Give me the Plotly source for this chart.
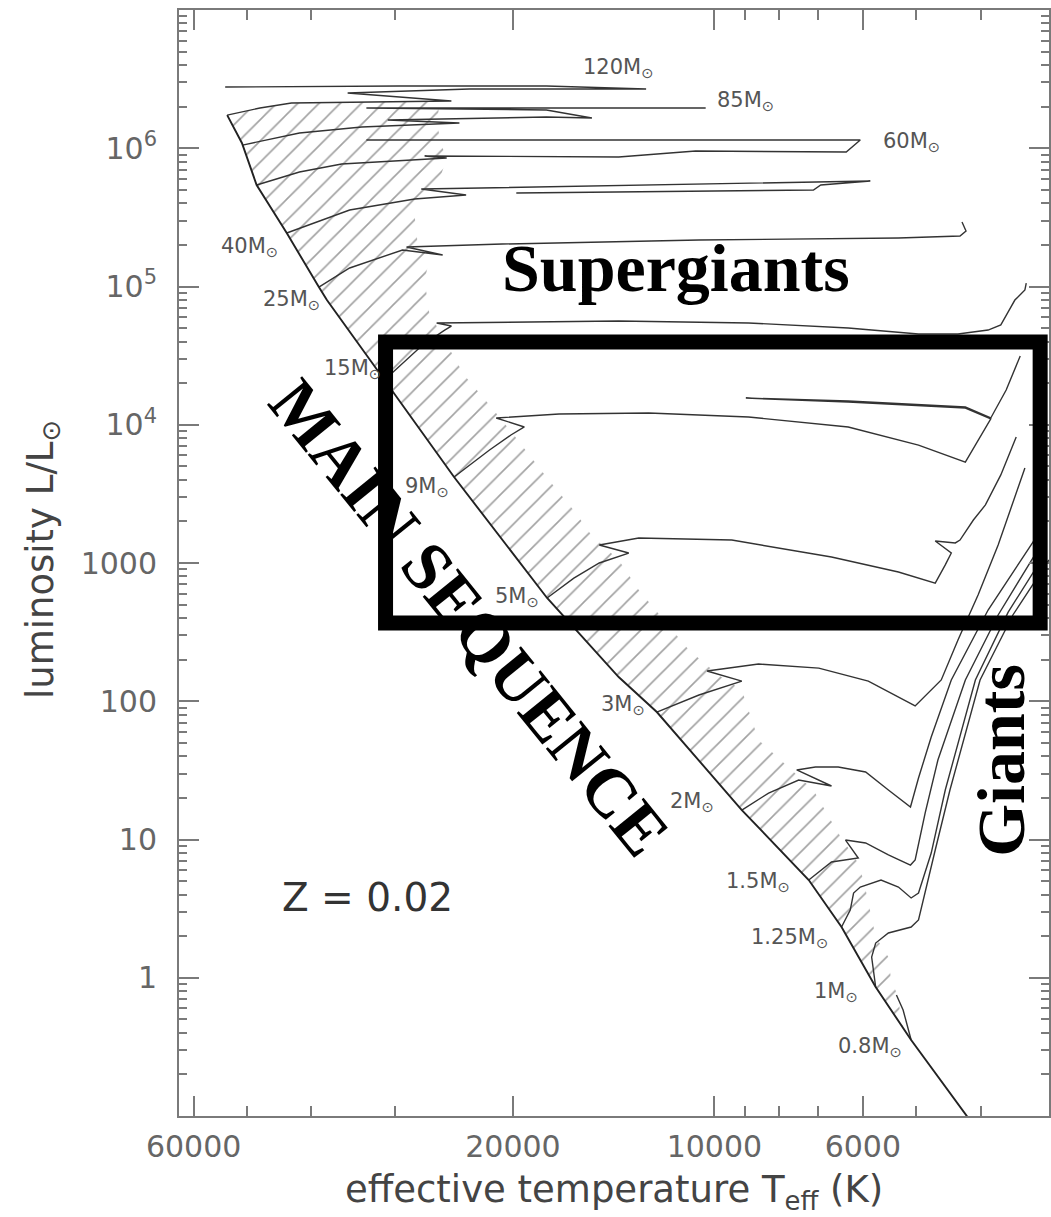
import numpy as np
import plotly.graph_objects as go

# ---------------------------------------------------------------
# Stellar evolutionary tracks, solar metallicity (Z = 0.02)
# All coordinates are log10(Teff / K) and log10(L / Lsun)
# ---------------------------------------------------------------

# zero-age main sequence
zams_logT = [4.728, 4.706, 4.684, 4.639, 4.591, 4.579, 4.493, 4.389, 4.250, 4.143,
             4.086, 3.959, 3.859, 3.810, 3.759, 3.706, 3.613]
zams_logL = [6.240, 6.038, 5.734, 5.387, 4.996, 4.902, 4.324, 3.622, 2.747, 2.175,
             1.922, 1.213, 0.707, 0.367, -0.067, -0.450, -1.065]

# end of core hydrogen burning (red edge of the hatched main-sequence band)
tams_logT = [4.411, 4.414, 4.408, 4.400, 4.411, 4.433, 4.448, 4.444, 4.426, 4.433,
             4.426, 4.403, 4.374, 4.336, 4.302, 4.251, 4.207, 4.184, 4.143, 4.113,
             4.075, 4.038, 3.994, 3.959, 3.934, 3.889, 3.852, 3.815, 3.788, 3.777,
             3.759, 3.740, 3.736, 3.725, 3.721, 3.706]
tams_logL = [6.342, 6.168, 6.023, 5.929, 5.770, 5.626, 5.517, 5.336, 5.192, 5.047,
             4.808, 4.613, 4.360, 4.143, 3.940, 3.622, 3.362, 3.202, 3.022, 2.805,
             2.588, 2.371, 2.190, 2.081, 1.720, 1.524, 1.358, 1.047, 0.852, 0.707,
             0.295, 0.150, -0.016, -0.139, -0.327, -0.450]
# upper edge of the band, back towards the top of the ZAMS
band_top_logT = [4.632, 4.679]
band_top_logL = [6.327, 6.291]

# individual tracks
m120_logT = [4.728, 4.679, 4.632, 4.393, 4.548, 4.366, 4.102, 4.251, 4.471, 4.731]
m120_logL = [6.240, 6.291, 6.327, 6.342, 6.400, 6.429, 6.429, 6.450, 6.450, 6.443]

m85_logT = [4.705, 4.620, 4.527, 4.381, 4.488, 4.251, 4.183, 4.251, 4.520, 4.013]
m85_logL = [6.023, 6.110, 6.154, 6.183, 6.204, 6.226, 6.219, 6.277, 6.291, 6.291]

m60_logT = [4.684, 4.620, 4.557, 4.400, 4.433, 4.143, 4.028, 3.803, 3.782, 4.520]
m60_logL = [5.734, 5.828, 5.886, 5.929, 5.944, 5.937, 5.980, 5.973, 6.060, 6.060]

m40_logT = [4.639, 4.545, 4.448, 4.371, 4.438, 4.172, 3.767, 3.841, 3.852, 4.296]
m40_logL = [5.387, 5.553, 5.633, 5.662, 5.705, 5.727, 5.763, 5.734, 5.698, 5.676]

m25_logT = [4.591, 4.545, 4.466, 4.406, 4.460, 4.317, 4.023, 3.725, 3.633, 3.624, 3.630]
m25_logL = [4.996, 5.134, 5.264, 5.228, 5.286, 5.307, 5.336, 5.351, 5.365, 5.401, 5.467]

m15_logT = [4.493, 4.436, 4.403, 4.393, 4.415, 4.292, 4.143, 3.949, 3.800, 3.695,
            3.636, 3.591, 3.572, 3.561, 3.551, 3.536, 3.534]
m15_logL = [4.324, 4.577, 4.685, 4.714, 4.736, 4.743, 4.750, 4.736, 4.700, 4.656,
            4.656, 4.685, 4.722, 4.816, 4.902, 4.975, 5.025]

m9_logT = [4.389, 4.336, 4.304, 4.284, 4.326, 4.232, 4.098, 3.949, 3.800, 3.695,
           3.625, 3.606, 3.587, 3.625, 3.800, 3.953, 3.800, 3.625, 3.587, 3.564,
           3.546, 3.543]
m9_logL = [3.622, 3.817, 3.926, 3.984, 4.049, 4.078, 4.085, 4.056, 3.984, 3.853,
           3.730, 3.890, 4.042, 4.121, 4.164, 4.193, 4.172, 4.128, 4.049, 4.251,
           4.454, 4.497]

m5_logT = [4.250, 4.210, 4.172, 4.128, 4.172, 4.113, 3.974, 3.825, 3.725, 3.670,
           3.655, 3.646, 3.670, 3.640, 3.633, 3.613, 3.595, 3.572, 3.549]
m5_logL = [2.747, 2.891, 3.000, 3.072, 3.130, 3.181, 3.166, 3.043, 2.935, 2.855,
           2.986, 3.072, 3.159, 3.145, 3.166, 3.311, 3.420, 3.637, 3.911]

m3_logT = [4.086, 4.023, 3.959, 4.011, 3.934, 3.844, 3.770, 3.700, 3.661, 3.636,
           3.606, 3.576, 3.536]
m3_logL = [1.922, 2.045, 2.146, 2.219, 2.269, 2.240, 2.146, 1.966, 2.154, 2.443,
           2.768, 3.130, 3.687]

m2_logT = [3.959, 3.919, 3.874, 3.825, 3.877, 3.849, 3.815, 3.774, 3.740, 3.707,
           3.695, 3.676, 3.646, 3.591, 3.522]
m2_logL = [1.213, 1.336, 1.430, 1.387, 1.503, 1.524, 1.524, 1.488, 1.358, 1.235,
           1.445, 1.741, 2.154, 2.660, 3.166]

m1p5_logT = [3.859, 3.825, 3.785, 3.804, 3.774, 3.740, 3.707, 3.700, 3.685, 3.666,
             3.625, 3.576, 3.515]
m1p5_logL = [0.707, 0.837, 0.866, 0.996, 0.975, 0.888, 0.815, 0.852, 1.192, 1.575,
             2.154, 2.624, 3.108]

m1p25_logT = [3.810, 3.797, 3.792, 3.782, 3.751, 3.725, 3.706, 3.695, 3.676, 3.655,
              3.610, 3.561, 3.507]
m1p25_logL = [0.367, 0.490, 0.613, 0.656, 0.707, 0.656, 0.577, 0.613, 0.902, 1.358,
              2.154, 2.645, 3.058]

m1_logT = [3.759, 3.765, 3.759, 3.740, 3.706, 3.695, 3.670, 3.648, 3.603, 3.554, 3.500]
m1_logL = [-0.067, 0.150, 0.251, 0.324, 0.367, 0.418, 0.924, 1.358, 2.154, 2.624, 3.022]

m0p8_logT = [3.706, 3.718, 3.728]
m0p8_logL = [-0.450, -0.233, -0.125]

# mass labels and where they are written
mass_labels = ["120", "85", "60", "40", "25", "15", "9", "5", "3", "2",
               "1.5", "1.25", "1", "0.8"]
label_logT = [4.143, 3.953, 3.706, 4.694, 4.632, 4.541, 4.429, 4.295, 4.137, 4.034,
              3.935, 3.888, 3.818, 3.768]
label_logL = [6.580, 6.342, 6.045, 5.286, 4.902, 4.403, 3.550, 2.754, 1.973, 1.271,
              0.693, 0.288, -0.103, -0.501]

tracks = [
    (m120_logT, m120_logL), (m85_logT, m85_logL), (m60_logT, m60_logL),
    (m40_logT, m40_logL), (m25_logT, m25_logL), (m15_logT, m15_logL),
    (m9_logT, m9_logL), (m5_logT, m5_logL), (m3_logT, m3_logL),
    (m2_logT, m2_logL), (m1p5_logT, m1p5_logL), (m1p25_logT, m1p25_logL),
    (m1_logT, m1_logL), (m0p8_logT, m0p8_logL),
]


def lin(v):
    return 10 ** np.asarray(v, dtype=float)


fig = go.Figure()

# hatched main-sequence band
band_T = zams_logT[:-1] + tams_logT[::-1] + band_top_logT
band_L = zams_logL[:-1] + tams_logL[::-1] + band_top_logL
fig.add_trace(go.Scatter(
    x=lin(band_T), y=lin(band_L), mode="lines", fill="toself",
    line=dict(width=0, color="rgba(0,0,0,0)"),
    fillcolor="rgba(255,255,255,0)",
    fillpattern=dict(shape="/", size=15, solidity=0.11,
                     fgcolor="#454545", bgcolor="rgba(255,255,255,0)"),
    hoverinfo="skip", showlegend=False))

# evolutionary tracks
for tT, tL in tracks:
    fig.add_trace(go.Scatter(
        x=lin(tT), y=lin(tL), mode="lines",
        line=dict(color="#333333", width=1.4),
        hoverinfo="skip", showlegend=False))

# ZAMS
fig.add_trace(go.Scatter(
    x=lin(zams_logT), y=lin(zams_logL), mode="lines",
    line=dict(color="#222222", width=1.9),
    hoverinfo="skip", showlegend=False))

axis_grey = "#7a7a7a"
tick_font = dict(family="DejaVu Sans", size=30, color="#666666")

fig.update_xaxes(
    type="log", range=[4.8, 3.5],
    tickmode="array",
    tickvals=[60000, 20000, 10000, 6000],
    ticktext=["60000", "20000", "10000", "6000"],
    ticks="inside", ticklen=20, tickwidth=1.5, tickcolor=axis_grey,
    minor=dict(tickmode="array",
               tickvals=[50000, 40000, 30000, 9000, 8000, 7000, 5000, 4000],
               ticks="inside", ticklen=10, tickwidth=1.5, tickcolor=axis_grey),
    showline=True, linecolor=axis_grey, linewidth=2, mirror="allticks",
    showgrid=False, zeroline=False, tickfont=tick_font, ticklabelstandoff=3)

decades = [1, 10, 100, 1000, 1e4, 1e5, 1e6]
minor_y = [k * 10.0 ** n for n in range(-1, 7) for k in range(2, 10)]
fig.update_yaxes(
    type="log", range=[-1, 7],
    tickmode="array", tickvals=decades,
    ticktext=["1", "10", "100", "1000", "10<sup>4</sup>", "10<sup>5</sup>", "10<sup>6</sup>"],
    ticks="inside", ticklen=20, tickwidth=1.5, tickcolor=axis_grey,
    minor=dict(tickmode="array", tickvals=minor_y, ticks="inside",
               ticklen=8, tickwidth=1.5, tickcolor=axis_grey),
    showline=True, linecolor=axis_grey, linewidth=2, mirror="allticks",
    showgrid=False, zeroline=False, tickfont=tick_font, ticklabelstandoff=14)

annotations = []
for m, lt, ll in zip(mass_labels, label_logT, label_logL):
    annotations.append(dict(
        x=lt, y=ll, xref="x", yref="y", showarrow=False,
        text=f"{m}M<sub>⊙</sub>",
        font=dict(family="DejaVu Sans", size=21, color="#555555")))

annotations += [
    dict(x=4.518, y=0.584, xref="x", yref="y", showarrow=False,
         text="Z = 0.02", font=dict(family="DejaVu Sans", size=39, color="#333333")),
    dict(x=-0.157, y=0.503, xref="paper", yref="paper", showarrow=False,
         xanchor="center", yanchor="middle",
         textangle=-90, text="luminosity L/L<sub>⊙</sub>",
         font=dict(family="DejaVu Sans", size=37, color="#444444")),
    dict(x=0.5, y=-0.069, xref="paper", yref="paper", showarrow=False,
         xanchor="center", yanchor="middle",
         text="effective temperature T<sub>eff</sub> (K)",
         font=dict(family="DejaVu Sans", size=37, color="#444444")),
    dict(x=4.058, y=5.134, xref="x", yref="y", showarrow=False,
         text="<b>Supergiants</b>",
         font=dict(family="Liberation Serif", size=68, color="black")),
    dict(x=3.572, y=1.575, xref="x", yref="y", showarrow=False, textangle=-90,
         text="<b>Giants</b>",
         font=dict(family="Liberation Serif", size=68, color="black")),
    dict(x=4.366, y=2.602, xref="x", yref="y", showarrow=False, textangle=51,
         text="<b>MAIN SEQUENCE</b>",
         font=dict(family="Liberation Serif", size=69, color="black")),
]

# highlighted box around the supergiant/giant crossing region
# (shape positions on log axes are given in data units)
shapes = [dict(type="rect", xref="x", yref="y",
               x0=31000, x1=3260, y0=39700, y1=368,
               line=dict(color="black", width=15), layer="above")]

fig.update_layout(
    width=1051, height=1217,
    margin=dict(l=179, r=0, t=10, b=101),
    paper_bgcolor="white", plot_bgcolor="white",
    showlegend=False,
    annotations=annotations, shapes=shapes)

fig.write_html("out.html")
